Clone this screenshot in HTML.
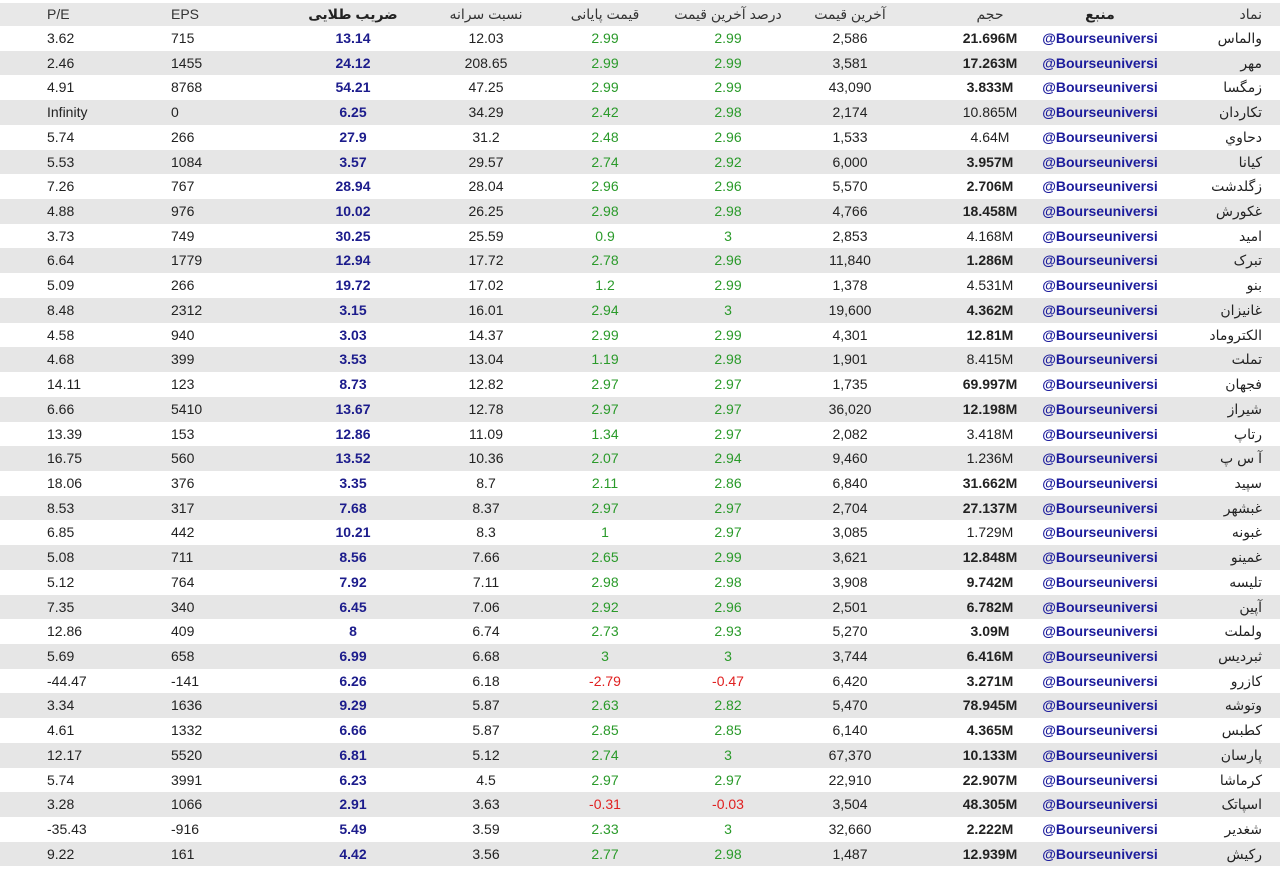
<!DOCTYPE html>
<html><head><meta charset="utf-8"><style>
body{margin:0;width:1280px;height:870px;background:#fff;overflow:hidden;font-family:"Liberation Sans","DejaVu Sans",sans-serif;font-size:14px;color:#222}
#hd{position:absolute;left:0;top:3px;width:1280px;height:23px;background:#e8e8e8}
#t{position:absolute;left:0;top:26px;width:1280px}
.r{position:relative;height:24.73px;line-height:24.73px}
.r:nth-child(even){background:#e6e6e6}
span{position:absolute;top:0;white-space:nowrap;direction:ltr;unicode-bidi:isolate}
.a{left:47px}.b{left:171px}
.c,.d,.e,.f,.g,.h,.i{width:160px;text-align:center}
.c{left:273px;font-weight:bold;color:#1c1c8c}
.d{left:406px}.e{left:525px;color:#2a9a2a}.f{left:648px;color:#2a9a2a}.g{left:770px}
.h{left:910px}.i{left:1020px;font-weight:bold;color:#1c1c9c}
span.j{right:18px;direction:rtl}
.k{font-weight:bold}.n{color:#e02020!important}
#hd span{line-height:23px;color:#333}
#hd span.c,#hd span.e,#hd span.f,#hd span.i{direction:rtl}
</style></head><body>
<div id="hd"><span class="a">P/E</span><span class="b">EPS</span><span class="c" style="color:#222">ضریب طلایی</span><span class="d" style="direction:rtl">نسبت سرانه</span><span class="e" style="color:#333">قیمت پایانی</span><span class="f" style="color:#333">درصد آخرین قیمت</span><span class="g" style="direction:rtl">آخرین قیمت</span><span class="h">حجم</span><span class="i" style="color:#222">منبع</span><span class="j">نماد</span></div>
<div id="t">
<div class="r"><span class="a">3.62</span><span class="b">715</span><span class="c">13.14</span><span class="d">12.03</span><span class="e">2.99</span><span class="f">2.99</span><span class="g">2,586</span><span class="h k">21.696M</span><span class="i">@Bourseuniversi</span><span class="j">والماس</span></div>
<div class="r"><span class="a">2.46</span><span class="b">1455</span><span class="c">24.12</span><span class="d">208.65</span><span class="e">2.99</span><span class="f">2.99</span><span class="g">3,581</span><span class="h k">17.263M</span><span class="i">@Bourseuniversi</span><span class="j">مهر</span></div>
<div class="r"><span class="a">4.91</span><span class="b">8768</span><span class="c">54.21</span><span class="d">47.25</span><span class="e">2.99</span><span class="f">2.99</span><span class="g">43,090</span><span class="h k">3.833M</span><span class="i">@Bourseuniversi</span><span class="j">زمگسا</span></div>
<div class="r"><span class="a">Infinity</span><span class="b">0</span><span class="c">6.25</span><span class="d">34.29</span><span class="e">2.42</span><span class="f">2.98</span><span class="g">2,174</span><span class="h">10.865M</span><span class="i">@Bourseuniversi</span><span class="j">تکاردان</span></div>
<div class="r"><span class="a">5.74</span><span class="b">266</span><span class="c">27.9</span><span class="d">31.2</span><span class="e">2.48</span><span class="f">2.96</span><span class="g">1,533</span><span class="h">4.64M</span><span class="i">@Bourseuniversi</span><span class="j">دحاوي</span></div>
<div class="r"><span class="a">5.53</span><span class="b">1084</span><span class="c">3.57</span><span class="d">29.57</span><span class="e">2.74</span><span class="f">2.92</span><span class="g">6,000</span><span class="h k">3.957M</span><span class="i">@Bourseuniversi</span><span class="j">کیانا</span></div>
<div class="r"><span class="a">7.26</span><span class="b">767</span><span class="c">28.94</span><span class="d">28.04</span><span class="e">2.96</span><span class="f">2.96</span><span class="g">5,570</span><span class="h k">2.706M</span><span class="i">@Bourseuniversi</span><span class="j">زگلدشت</span></div>
<div class="r"><span class="a">4.88</span><span class="b">976</span><span class="c">10.02</span><span class="d">26.25</span><span class="e">2.98</span><span class="f">2.98</span><span class="g">4,766</span><span class="h k">18.458M</span><span class="i">@Bourseuniversi</span><span class="j">غکورش</span></div>
<div class="r"><span class="a">3.73</span><span class="b">749</span><span class="c">30.25</span><span class="d">25.59</span><span class="e">0.9</span><span class="f">3</span><span class="g">2,853</span><span class="h">4.168M</span><span class="i">@Bourseuniversi</span><span class="j">امید</span></div>
<div class="r"><span class="a">6.64</span><span class="b">1779</span><span class="c">12.94</span><span class="d">17.72</span><span class="e">2.78</span><span class="f">2.96</span><span class="g">11,840</span><span class="h k">1.286M</span><span class="i">@Bourseuniversi</span><span class="j">تبرک</span></div>
<div class="r"><span class="a">5.09</span><span class="b">266</span><span class="c">19.72</span><span class="d">17.02</span><span class="e">1.2</span><span class="f">2.99</span><span class="g">1,378</span><span class="h">4.531M</span><span class="i">@Bourseuniversi</span><span class="j">بنو</span></div>
<div class="r"><span class="a">8.48</span><span class="b">2312</span><span class="c">3.15</span><span class="d">16.01</span><span class="e">2.94</span><span class="f">3</span><span class="g">19,600</span><span class="h k">4.362M</span><span class="i">@Bourseuniversi</span><span class="j">غانیزان</span></div>
<div class="r"><span class="a">4.58</span><span class="b">940</span><span class="c">3.03</span><span class="d">14.37</span><span class="e">2.99</span><span class="f">2.99</span><span class="g">4,301</span><span class="h k">12.81M</span><span class="i">@Bourseuniversi</span><span class="j">الکتروماد</span></div>
<div class="r"><span class="a">4.68</span><span class="b">399</span><span class="c">3.53</span><span class="d">13.04</span><span class="e">1.19</span><span class="f">2.98</span><span class="g">1,901</span><span class="h">8.415M</span><span class="i">@Bourseuniversi</span><span class="j">تملت</span></div>
<div class="r"><span class="a">14.11</span><span class="b">123</span><span class="c">8.73</span><span class="d">12.82</span><span class="e">2.97</span><span class="f">2.97</span><span class="g">1,735</span><span class="h k">69.997M</span><span class="i">@Bourseuniversi</span><span class="j">فجهان</span></div>
<div class="r"><span class="a">6.66</span><span class="b">5410</span><span class="c">13.67</span><span class="d">12.78</span><span class="e">2.97</span><span class="f">2.97</span><span class="g">36,020</span><span class="h k">12.198M</span><span class="i">@Bourseuniversi</span><span class="j">شیراز</span></div>
<div class="r"><span class="a">13.39</span><span class="b">153</span><span class="c">12.86</span><span class="d">11.09</span><span class="e">1.34</span><span class="f">2.97</span><span class="g">2,082</span><span class="h">3.418M</span><span class="i">@Bourseuniversi</span><span class="j">رتاپ</span></div>
<div class="r"><span class="a">16.75</span><span class="b">560</span><span class="c">13.52</span><span class="d">10.36</span><span class="e">2.07</span><span class="f">2.94</span><span class="g">9,460</span><span class="h">1.236M</span><span class="i">@Bourseuniversi</span><span class="j">آ س پ</span></div>
<div class="r"><span class="a">18.06</span><span class="b">376</span><span class="c">3.35</span><span class="d">8.7</span><span class="e">2.11</span><span class="f">2.86</span><span class="g">6,840</span><span class="h k">31.662M</span><span class="i">@Bourseuniversi</span><span class="j">سپید</span></div>
<div class="r"><span class="a">8.53</span><span class="b">317</span><span class="c">7.68</span><span class="d">8.37</span><span class="e">2.97</span><span class="f">2.97</span><span class="g">2,704</span><span class="h k">27.137M</span><span class="i">@Bourseuniversi</span><span class="j">غبشهر</span></div>
<div class="r"><span class="a">6.85</span><span class="b">442</span><span class="c">10.21</span><span class="d">8.3</span><span class="e">1</span><span class="f">2.97</span><span class="g">3,085</span><span class="h">1.729M</span><span class="i">@Bourseuniversi</span><span class="j">غبونه</span></div>
<div class="r"><span class="a">5.08</span><span class="b">711</span><span class="c">8.56</span><span class="d">7.66</span><span class="e">2.65</span><span class="f">2.99</span><span class="g">3,621</span><span class="h k">12.848M</span><span class="i">@Bourseuniversi</span><span class="j">غمینو</span></div>
<div class="r"><span class="a">5.12</span><span class="b">764</span><span class="c">7.92</span><span class="d">7.11</span><span class="e">2.98</span><span class="f">2.98</span><span class="g">3,908</span><span class="h k">9.742M</span><span class="i">@Bourseuniversi</span><span class="j">تلیسه</span></div>
<div class="r"><span class="a">7.35</span><span class="b">340</span><span class="c">6.45</span><span class="d">7.06</span><span class="e">2.92</span><span class="f">2.96</span><span class="g">2,501</span><span class="h k">6.782M</span><span class="i">@Bourseuniversi</span><span class="j">آپین</span></div>
<div class="r"><span class="a">12.86</span><span class="b">409</span><span class="c">8</span><span class="d">6.74</span><span class="e">2.73</span><span class="f">2.93</span><span class="g">5,270</span><span class="h k">3.09M</span><span class="i">@Bourseuniversi</span><span class="j">ولملت</span></div>
<div class="r"><span class="a">5.69</span><span class="b">658</span><span class="c">6.99</span><span class="d">6.68</span><span class="e">3</span><span class="f">3</span><span class="g">3,744</span><span class="h k">6.416M</span><span class="i">@Bourseuniversi</span><span class="j">ثبردیس</span></div>
<div class="r"><span class="a">-44.47</span><span class="b">-141</span><span class="c">6.26</span><span class="d">6.18</span><span class="e n">-2.79</span><span class="f n">-0.47</span><span class="g">6,420</span><span class="h k">3.271M</span><span class="i">@Bourseuniversi</span><span class="j">کازرو</span></div>
<div class="r"><span class="a">3.34</span><span class="b">1636</span><span class="c">9.29</span><span class="d">5.87</span><span class="e">2.63</span><span class="f">2.82</span><span class="g">5,470</span><span class="h k">78.945M</span><span class="i">@Bourseuniversi</span><span class="j">وتوشه</span></div>
<div class="r"><span class="a">4.61</span><span class="b">1332</span><span class="c">6.66</span><span class="d">5.87</span><span class="e">2.85</span><span class="f">2.85</span><span class="g">6,140</span><span class="h k">4.365M</span><span class="i">@Bourseuniversi</span><span class="j">کطبس</span></div>
<div class="r"><span class="a">12.17</span><span class="b">5520</span><span class="c">6.81</span><span class="d">5.12</span><span class="e">2.74</span><span class="f">3</span><span class="g">67,370</span><span class="h k">10.133M</span><span class="i">@Bourseuniversi</span><span class="j">پارسان</span></div>
<div class="r"><span class="a">5.74</span><span class="b">3991</span><span class="c">6.23</span><span class="d">4.5</span><span class="e">2.97</span><span class="f">2.97</span><span class="g">22,910</span><span class="h k">22.907M</span><span class="i">@Bourseuniversi</span><span class="j">کرماشا</span></div>
<div class="r"><span class="a">3.28</span><span class="b">1066</span><span class="c">2.91</span><span class="d">3.63</span><span class="e n">-0.31</span><span class="f n">-0.03</span><span class="g">3,504</span><span class="h k">48.305M</span><span class="i">@Bourseuniversi</span><span class="j">اسپاتک</span></div>
<div class="r"><span class="a">-35.43</span><span class="b">-916</span><span class="c">5.49</span><span class="d">3.59</span><span class="e">2.33</span><span class="f">3</span><span class="g">32,660</span><span class="h k">2.222M</span><span class="i">@Bourseuniversi</span><span class="j">شغدیر</span></div>
<div class="r"><span class="a">9.22</span><span class="b">161</span><span class="c">4.42</span><span class="d">3.56</span><span class="e">2.77</span><span class="f">2.98</span><span class="g">1,487</span><span class="h k">12.939M</span><span class="i">@Bourseuniversi</span><span class="j">رکیش</span></div>
</div>
</body></html>
